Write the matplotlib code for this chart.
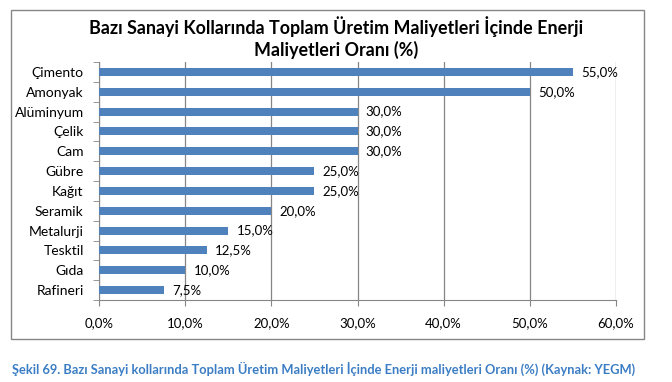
import matplotlib.pyplot as plt
from matplotlib.patches import Rectangle
from matplotlib.ticker import FixedLocator

plt.rcParams['font.family'] = ['Lato', 'DejaVu Sans']

sectors = ["Çimento", "Amonyak", "Alüminyum", "Çelik", "Cam", "Gübre", "Kağıt",
           "Seramik", "Metalurji", "Tesktil", "Gıda", "Rafineri"]
shares = [55.0, 50.0, 30.0, 30.0, 30.0, 25.0, 25.0, 20.0, 15.0, 12.5, 10.0, 7.5]
x_ticks = [0, 10, 20, 30, 40, 50, 60]

bar_color = "#4F81BD"
grid_color = "#868686"

fig = plt.figure(figsize=(6.72, 3.82), dpi=100)
ax = fig.add_axes([99/672, 1 - 300/382, (616 - 99)/672, (300 - 62)/382])

# outer chart frame
fig.patches.append(Rectangle((11/672, 1 - 339/382), (644 - 11)/672, (339 - 10)/382,
                             transform=fig.transFigure, fill=False,
                             edgecolor="#868686", linewidth=1.0))

pos = list(range(len(sectors)))
ax.barh(pos, shares, height=0.4, color=bar_color, zorder=3)

for p, v in zip(pos, shares):
    ax.annotate(f"{v:.1f}%".replace(".", ","), (v, p), xytext=(6, 0),
                textcoords="offset points", va="center", ha="left", fontsize=9.5)

ax.set_xlim(0, 60)
ax.set_ylim(len(sectors) - 0.5, -0.5)
ax.set_xticks(x_ticks)
ax.set_xticklabels([f"{t:.1f}%".replace(".", ",") for t in x_ticks], fontsize=9.5)
ax.set_yticks(pos)
ax.set_yticklabels(sectors, fontsize=10)
ax.yaxis.set_minor_locator(FixedLocator([i - 0.5 for i in range(len(sectors) + 1)]))

ax.tick_params(axis="y", which="major", length=0, pad=11)
ax.tick_params(axis="y", which="minor", length=4, color=grid_color, direction="out")
ax.tick_params(axis="x", which="major", length=4, color=grid_color, direction="out", pad=8)

ax.grid(axis="x", color=grid_color, linewidth=0.9, zorder=0)
ax.spines["top"].set_visible(False)
ax.spines["right"].set_visible(False)
ax.spines["left"].set_color(grid_color)
ax.spines["bottom"].set_color(grid_color)

fig.text(336/672, 1 - 27/382, "Bazı Sanayi Kollarında Toplam Üretim Maliyetleri İçinde Enerji",
         ha="center", va="center", fontsize=12.9, fontweight="bold")
fig.text(336/672, 1 - 50/382, "Maliyetleri Oranı (%)",
         ha="center", va="center", fontsize=12.9, fontweight="bold")

fig.text(12/672, 1 - 369/382,
         "Şekil 69. Bazı Sanayi kollarında Toplam Üretim Maliyetleri İçinde Enerji maliyetleri Oranı (%) (Kaynak: YEGM)",
         ha="left", va="center", fontsize=9.3, fontweight="bold", color="#3B7DC4")

fig.savefig("out.png", dpi=100)
